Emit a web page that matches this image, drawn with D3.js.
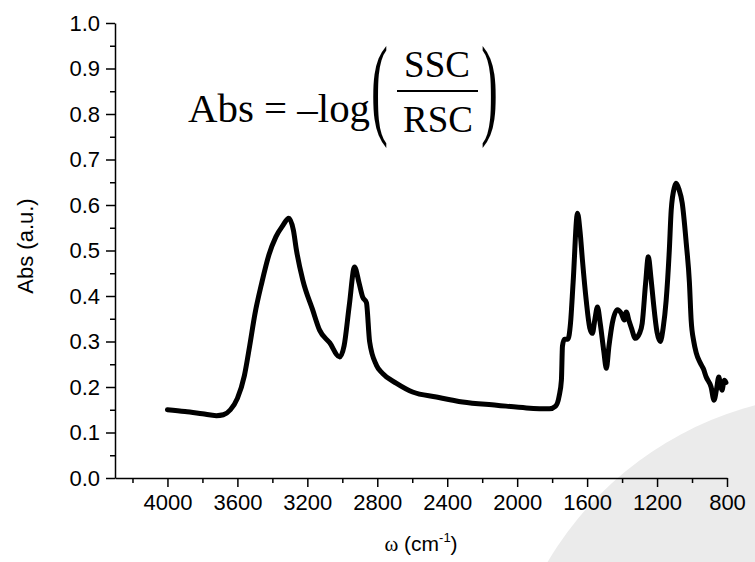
<!DOCTYPE html>
<html>
<head>
<meta charset="utf-8">
<script src="https://cdn.jsdelivr.net/npm/d3@7"></script>
<style>
  body { margin: 0; background: #fff; }
  svg text { font-family: Arial, "Liberation Sans", sans-serif; }
</style>
</head>
<body>
<div id="chart"></div>
<script>
// wavenumber (cm-1) and absorbance
const wavenumber = [4000, 3900, 3800, 3720, 3680, 3640, 3600, 3560, 3530, 3500, 3460, 3420, 3380, 3340, 3306,
  3280, 3262, 3226, 3170, 3130, 3072, 3015, 2990, 2960, 2930, 2905, 2884, 2862, 2844, 2805, 2770, 2690, 2598,
  2462, 2312, 2118, 1947, 1815, 1780, 1760, 1747, 1741, 1730, 1710, 1695, 1680, 1655, 1640, 1627, 1605, 1585,
  1570, 1555, 1541, 1525, 1505, 1490, 1475, 1456, 1427, 1405, 1387, 1376, 1360, 1347, 1324, 1300, 1285, 1265,
  1250, 1235, 1222, 1200, 1182, 1165, 1148, 1130, 1119, 1100, 1091, 1075, 1056, 1033, 1015, 1005, 990, 976,
  953, 935, 919, 891, 874, 860, 847, 838, 829, 815, 806];
const absorbance = [0.150, 0.146, 0.141, 0.137, 0.139, 0.150, 0.175, 0.225, 0.290, 0.360, 0.430, 0.490, 0.530, 0.555, 0.571,
  0.545, 0.500, 0.435, 0.370, 0.325, 0.297, 0.266, 0.290, 0.380, 0.464, 0.430, 0.398, 0.385, 0.300, 0.248, 0.230, 0.208, 0.189,
  0.178, 0.167, 0.160, 0.154, 0.152, 0.158, 0.180, 0.215, 0.290, 0.305, 0.305, 0.340, 0.430, 0.582, 0.540, 0.480, 0.390, 0.330,
  0.318, 0.350, 0.376, 0.340, 0.280, 0.241, 0.290, 0.340, 0.370, 0.362, 0.347, 0.365, 0.345, 0.330, 0.307, 0.318, 0.340, 0.430,
  0.486, 0.440, 0.390, 0.320, 0.300, 0.330, 0.390, 0.500, 0.589, 0.640, 0.648, 0.635, 0.604, 0.516, 0.430, 0.347, 0.300, 0.275,
  0.253, 0.240, 0.222, 0.200, 0.171, 0.195, 0.222, 0.205, 0.193, 0.215, 0.210];

const xTicks = [4000, 3600, 3200, 2800, 2400, 2000, 1600, 1200, 800];
const xMinor = [4200, 3800, 3400, 3000, 2600, 2200, 1800, 1400, 1000];
const yTicks = [0, 0.1, 0.2, 0.3, 0.4, 0.5, 0.6, 0.7, 0.8, 0.9, 1.0];
const yMinor = [0.05, 0.15, 0.25, 0.35, 0.45, 0.55, 0.65, 0.75, 0.85, 0.95];

const data = wavenumber.map((w, i) => ({w: w, a: absorbance[i]}));

const width = 755, height = 562;
const margin = {top: 23, right: 28, bottom: 84, left: 115};

const svg = d3.select('#chart')
  .append('svg')
  .attr('width', width)
  .attr('height', height);

// light grey decoration in the lower right corner
svg.append('circle')
  .attr('cx', 842)
  .attr('cy', 736)
  .attr('r', 342)
  .attr('fill', '#ebebeb');

const xScale = d3.scaleLinear()
  .domain([4300, 800])
  .range([margin.left, width - margin.right]);

const yScale = d3.scaleLinear()
  .domain([0, 1])
  .range([height - margin.bottom, margin.top]);

const g = svg.append('g');

// minor ticks first, then labelled major ticks
g.append('g')
  .attr('transform', 'translate(0,' + (height - margin.bottom) + ')')
  .call(d3.axisBottom(xScale).tickValues(xMinor).tickSize(5).tickFormat(''))
  .call(a => a.select('.domain').remove());

g.append('g')
  .attr('class', 'x axis')
  .attr('transform', 'translate(0,' + (height - margin.bottom) + ')')
  .call(d3.axisBottom(xScale).tickValues(xTicks).tickSize(9).tickSizeOuter(0).tickPadding(7).tickFormat(d3.format('d')));

g.append('g')
  .attr('transform', 'translate(' + margin.left + ',0)')
  .call(d3.axisLeft(yScale).tickValues(yMinor).tickSize(5).tickFormat(''))
  .call(a => a.select('.domain').remove());

g.append('g')
  .attr('class', 'y axis')
  .attr('transform', 'translate(' + margin.left + ',0)')
  .call(d3.axisLeft(yScale).tickValues(yTicks).tickSize(9).tickSizeOuter(0).tickPadding(6).tickFormat(d3.format('.1f')));

g.selectAll('.domain, .tick line')
  .attr('stroke', '#000')
  .attr('stroke-width', 1.5);

g.selectAll('.tick text')
  .attr('font-size', 22)
  .attr('fill', '#000')
  .style('font-family', 'Arial, "Liberation Sans", sans-serif');

const line = d3.line()
  .x(d => xScale(d.w))
  .y(d => yScale(d.a))
  .curve(d3.curveMonotoneX);

svg.append('path')
  .datum(data)
  .attr('fill', 'none')
  .attr('stroke', '#000')
  .attr('stroke-width', 5)
  .attr('stroke-linejoin', 'round')
  .attr('stroke-linecap', 'round')
  .attr('d', line);

// axis titles
const xt = svg.append('text')
  .attr('x', 421)
  .attr('y', 551)
  .attr('text-anchor', 'middle')
  .attr('font-size', 21);
xt.append('tspan').style('font-family', '"Liberation Serif", serif').text('ω');
xt.append('tspan').text(' (cm');
xt.append('tspan').attr('font-size', 13).attr('dy', -9).text('-1');
xt.append('tspan').attr('dy', 9).text(')');

svg.append('text')
  .attr('transform', 'translate(33,246) rotate(-90)')
  .attr('text-anchor', 'middle')
  .attr('font-size', 22)
  .text('Abs (a.u.)');

// formula
const serif = '"Liberation Serif", "Times New Roman", serif';
svg.append('text')
  .attr('x', 188).attr('y', 122)
  .attr('font-size', 40)
  .attr('textLength', 182)
  .attr('lengthAdjust', 'spacingAndGlyphs')
  .style('font-family', serif)
  .text('Abs = \u2013log');

svg.append('text')
  .attr('x', 437).attr('y', 77)
  .attr('text-anchor', 'middle')
  .attr('font-size', 37)
  .style('font-family', serif)
  .text('SSC');

svg.append('line')
  .attr('x1', 397).attr('x2', 478)
  .attr('y1', 91).attr('y2', 91)
  .attr('stroke', '#000')
  .attr('stroke-width', 2);

svg.append('text')
  .attr('x', 438).attr('y', 132)
  .attr('text-anchor', 'middle')
  .attr('font-size', 37)
  .style('font-family', serif)
  .text('RSC');

svg.append('text')
  .attr('transform', 'translate(371,124) scale(0.45,1)')
  .attr('font-size', 113)
  .style('font-family', serif)
  .text('(');

svg.append('text')
  .attr('transform', 'translate(481,124) scale(0.45,1)')
  .attr('font-size', 113)
  .style('font-family', serif)
  .text(')');
</script>
</body>
</html>
